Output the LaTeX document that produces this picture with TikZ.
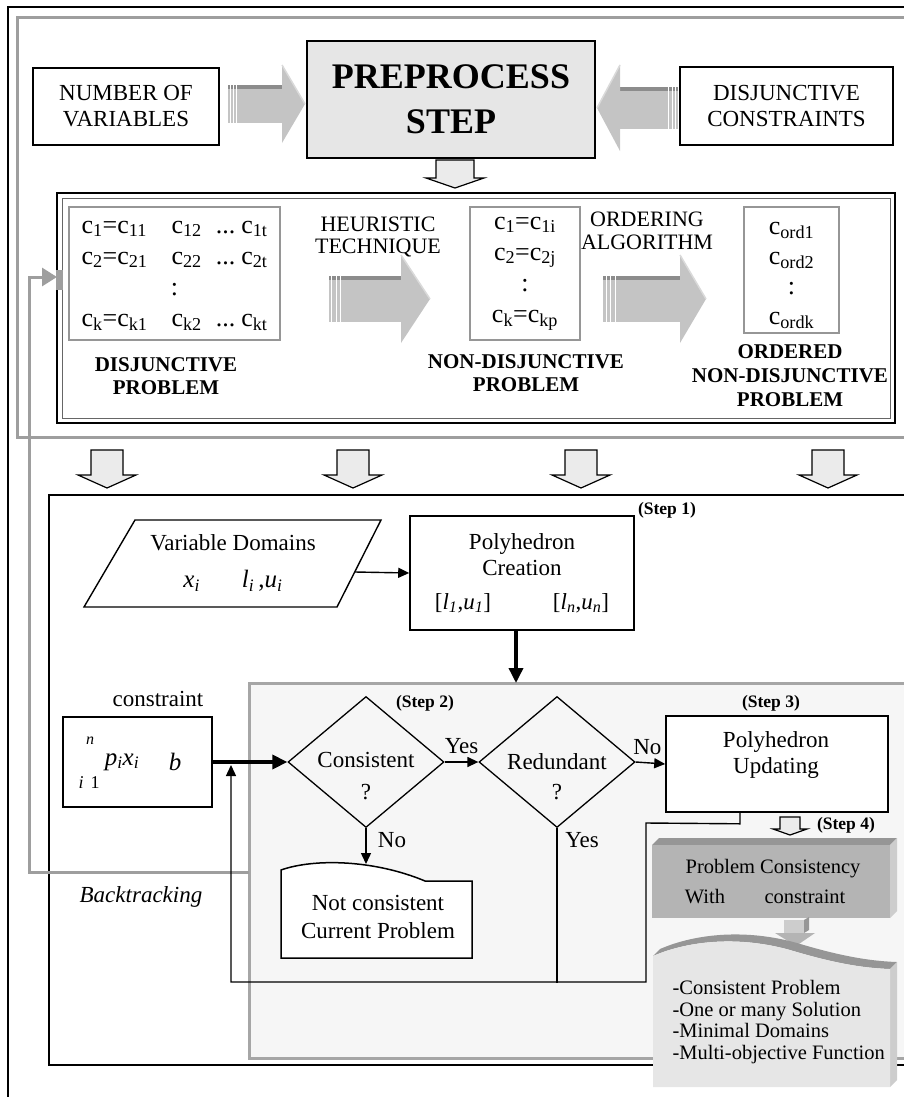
\documentclass[tikz,border=0pt]{standalone}
\usepackage{fontspec}
\setmainfont{Liberation Serif}
\usetikzlibrary{arrows.meta,positioning,shapes.geometric}
\definecolor{framegray}{RGB}{158,158,158}
\definecolor{prepgray}{RGB}{230,230,230}
\definecolor{arrowgray}{RGB}{196,196,196}
\definecolor{arrowdark}{RGB}{140,140,140}
\definecolor{arrowlight}{RGB}{218,218,218}
\definecolor{openfill}{RGB}{235,235,235}
\definecolor{matgray}{RGB}{150,150,150}
\definecolor{regionfill}{RGB}{246,246,246}
\definecolor{regionedge}{RGB}{166,166,166}
\definecolor{cubefront}{RGB}{180,180,180}
\definecolor{cubetop}{RGB}{150,150,150}
\definecolor{cubeside}{RGB}{205,205,205}
\definecolor{wavefront}{RGB}{230,230,230}

\newcommand{\cvar}[1]{c\textsubscript{#1}}
\newcommand{\iv}[2]{\textit{#1}\textsubscript{\textit{#2}}}
% tail x, head x, tip x, mid y, shaft half, head half
\newcommand{\fatarrow}[6]{%
  \fill[arrowgray] (#1,#4-#5) rectangle (#2,#4+#5);
  \fill[arrowdark] (#1,#4-#5) rectangle (#2,#4-#5+4);
  \foreach \f in {0.04,0.1,0.16}
    \draw[white, line width=0.9pt] ({#1+\f*(#2-#1)},#4-#5) -- ({#1+\f*(#2-#1)},#4+#5);
  \fill[arrowgray] (#2,#4-#6) -- (#3,#4) -- (#2,#4+#6) -- cycle;
  \draw[arrowlight, line width=1.5pt] (#2,#4-#6) -- (#3,#4);
}
% centre x, top y, shaft half, head half, shaft length, head length
\newcommand{\openarrow}[6]{%
  \draw[fill=openfill, line width=1.2pt] (#1-#3,#2) -- (#1+#3,#2) -- (#1+#3,#2+#5)
    -- (#1+#4,#2+#5) -- (#1,#2+#5+#6) -- (#1-#4,#2+#5) -- (#1-#3,#2+#5) -- cycle;
}

\tikzset{
  txtbox/.style={draw, line width=1.6pt, fill=white, align=center, inner sep=0pt},
  matbox/.style={draw=matgray, line width=1.5pt, fill=white, inner sep=0pt},
  mattext/.style={align=center, font=\fontsize{26}{31}\selectfont},
  biglabel/.style={font=\fontsize{21}{23}\selectfont\bfseries, align=center},
  steplabel/.style={font=\fontsize{17.5}{20}\selectfont\bfseries},
  decision/.style={diamond, draw, line width=1.3pt, minimum width=156pt, minimum height=131pt, inner sep=0pt},
  thinarrow/.style={line width=1.4pt, -{Triangle[length=11pt,width=10pt]}},
  thickarrow/.style={line width=3.5pt, -{Triangle[length=15pt,width=14pt]}},
  smalltext/.style={font=\fontsize{20.5}{22}\selectfont}
}

\begin{document}
\begin{tikzpicture}[x=1pt,y=-1pt,font=\fontsize{23}{26}\selectfont]
  \useasboundingbox (0,0) rectangle (904,1097);

  % frames
  \draw[line width=1.4pt] (8,1110) -- (8,7) -- (920,7);
  \draw[framegray, line width=3pt] (920,18) -- (17,18) -- (17,437) -- (920,437);

  % preprocess row
  \node[txtbox, minimum width=186pt, minimum height=77pt] (nvars) at (126,106.5) {NUMBER OF\\VARIABLES};
  \node[txtbox, fill=prepgray, minimum width=288pt, minimum height=117pt,
    font=\fontsize{36}{45}\selectfont\bfseries] (prep) at (451,99.5) {PREPROCESS\\STEP};
  \node[txtbox, minimum width=213pt, minimum height=78pt] (dcons) at (786.5,106) {DISJUNCTIVE\\CONSTRAINTS};
  \fatarrow{228}{282}{305}{104}{19}{39}
  \fatarrow{678}{620}{597}{108}{21}{43}
  \openarrow{455}{160}{19}{29}{18}{10}

  % preprocessing frame
  \draw[line width=1.5pt] (57,193) rectangle (895,423);
  \draw[black!60, line width=1pt] (62,198) rectangle (890,418);
  \fill[framegray] (56,270) rectangle (63,290);

  \node[matbox, mattext, minimum width=211pt, minimum height=133pt] (dmat) at (174.5,273.5)
    {\begin{tabular}{@{}l@{\hspace{24pt}}l@{\hspace{14pt}}c@{\hspace{6pt}}l@{}}
      \cvar{1}=\cvar{11} & \cvar{12} & ... & \cvar{1t}\\
      \cvar{2}=\cvar{21} & \cvar{22} & ... & \cvar{2t}\\
      \multicolumn{4}{c}{:}\\
      \cvar{k}=\cvar{k1} & \cvar{k2} & ... & \cvar{kt}
    \end{tabular}};
  \node[font=\fontsize{22}{22}\selectfont, align=center] (heur) at (378,237) {HEURISTIC\\TECHNIQUE};
  \fatarrow{329}{401}{430}{299}{23}{44}
  \node[matbox, mattext, minimum width=110pt, minimum height=133pt] (ndmat) at (525,273.5)
    {\cvar{1}=\cvar{1i}\\\cvar{2}=\cvar{2j}\\:\\\cvar{k}=\cvar{kp}};
  \node[font=\fontsize{22}{23}\selectfont, align=center] (order) at (647,231) {ORDERING\\ALGORITHM};
  \fatarrow{603}{680}{706}{299}{23}{44}
  \node[matbox, minimum width=95pt, minimum height=126pt] (odbox) at (791.5,270) {};
  \node[mattext, font=\fontsize{26}{30}\selectfont] (odmat) at (791.5,275)
    {\cvar{ord1}\\\cvar{ord2}\\:\\\cvar{ordk}};

  \node[biglabel] (dlab) at (166,376.5) {DISJUNCTIVE\\PROBLEM};
  \node[biglabel] (ndlab) at (526,373.5) {NON-DISJUNCTIVE\\PROBLEM};
  \node[biglabel, font=\fontsize{21}{24}\selectfont\bfseries] (odlab) at (790,376) {ORDERED\\NON-DISJUNCTIVE\\PROBLEM};

  \foreach \xa in {107,353,581,828} {\openarrow{\xa}{450}{16}{29}{25}{13}}

  % solving steps
  \draw[line width=1.5pt] (920,495) -- (49,495) -- (49,1065) -- (920,1065);
  \fill[regionfill] (249,683) rectangle (920,1058);
  \draw[regionedge, line width=3pt] (920,683) -- (249,683) -- (249,1058) -- (920,1058);

  \coordinate (btfrom) at (249,872);
  \coordinate (btto) at (57,277);
  \draw[framegray, line width=3pt, -{Triangle[length=15pt,width=18pt]}] (btfrom) -- (29,872) -- (29,277) -- (btto);
  \node[font=\fontsize{23}{26}\selectfont\itshape] (btlab) at (141,897) {Backtracking};

  \node[steplabel] (s1) at (667,510) {(Step 1)};
  \draw[line width=1.4pt] (135,520) -- (381,520) -- (337,607) -- (84,607) -- cycle;
  \node[align=center, font=\fontsize{23}{37}\selectfont] (vardom) at (233,563)
    {Variable Domains\\{\fontsize{25}{25}\selectfont\iv{x}{i}\hspace{42pt}\iv{l}{i}\,,\iv{u}{i}}};
  \node[txtbox, minimum width=224pt, minimum height=114pt] (creation) at (522,573)
    {Polyhedron\\Creation\\[8pt][\iv{l}{1},\iv{u}{1}]\hspace{62pt}[\iv{l}{n},\iv{u}{n}]};
  \coordinate (varout) at (355,572);
  \draw[thinarrow] (varout) -- (creation.west);
  \coordinate (regtop) at (516,683);
  \draw[thickarrow] ([xshift=-6pt]creation.south) -- (regtop);

  \node (clab) at (158,699) {constraint};
  \node[txtbox, minimum width=149pt, minimum height=90pt] (cbox) at (137.5,762) {};
  \node[font=\fontsize{16}{16}\selectfont\itshape] (csumtop) at (90,741) {n};
  \node[font=\fontsize{25}{25}\selectfont] (cterm) at (122,762) {\iv{p}{i}\iv{x}{i}};
  \node[font=\fontsize{25}{25}\selectfont\itshape] (cbound) at (175,762) {b};
  \node[font=\fontsize{18}{18}\selectfont] (csumbot) at (89,783) {\textit{i}\hspace{7pt}1};

  \node[decision] (cons) at (366,762) {};
  \node (constxt) at (366,760) {Consistent};
  \node (consq) at (366,792) {?};
  \node[decision] (red) at (557,762) {};
  \node (redtxt) at (557,762) {Redundant};
  \node (redq) at (557,792) {?};
  \node[steplabel] (s2) at (425,703) {(Step 2)};
  \node[steplabel] (s3) at (771,703) {(Step 3)};
  \node[txtbox, minimum width=222pt, minimum height=96pt] (upd) at (777,764) {};
  \node[align=center] (updtxt) at (776,755) {Polyhedron\\Updating};

  \draw[thickarrow] (cbox.east) -- (cons.west);
  \draw[thinarrow] (cons.east) -- (red.west) node[midway, above=4pt] (yes1) {Yes};
  \draw[thinarrow] (red.east) -- (upd.west) node[midway, above=4pt, xshift=-3pt] (no1) {No};
  \coordinate (nctop) at (366,864);
  \draw[thinarrow] (cons.south) -- (nctop);
  \node (no2) at (392,840) {No};
  \node (yes2) at (582,840) {Yes};
  \draw[line width=1.4pt] (red.south) -- ++(0,155);
  \coordinate (loopin) at (231,765);
  \draw[thinarrow] ([xshift=-37pt]upd.south) -- ++(0,11) -- (646,823) -- (646,982) -- (231,982) -- (loopin);

  \draw[line width=1.5pt, fill=white] (281,958) -- (281,870) .. controls (315,858) and (375,860) .. (425,881)
    -- (472,881) -- (472,958) -- cycle;
  \node[align=center, font=\fontsize{23}{28}\selectfont] (notcons) at (378,917) {Not consistent\\Current Problem};

  % step 4
  \openarrow{790}{817}{10}{17}{12}{6}
  \node[steplabel] (s4) at (846,825) {(Step 4)};
  \fill[cubetop] (652,845) -- (659,838) -- (897,838) -- (890,845) -- cycle;
  \fill[cubeside] (890,845) -- (897,838) -- (897,911) -- (890,918) -- cycle;
  \fill[cubefront] (652,845) rectangle (890,918);
  \node[smalltext] (pc1) at (773,869) {Problem Consistency};
  \node[smalltext] (pc2) at (705,897) {With};
  \node[smalltext] (pc3) at (805,897) {constraint};

  \fill[cubeside] (784,920) rectangle (804,933);
  \fill[cubetop] (804,920) -- (809,917) -- (809,930) -- (804,933) -- cycle;
  \fill[cubefront] (775,933) -- (815,933) -- (796,946) -- cycle;

  \fill[cubetop] (653,956) .. controls (690,940) and (740,936) .. (790,950) .. controls (830,962) and (860,968) .. (890,969)
    -- (897,962) .. controls (867,961) and (837,955) .. (797,943) .. controls (747,929) and (697,933) .. (660,949) -- cycle;
  \fill[cubeside] (890,969) -- (897,962) -- (897,1080) -- (890,1087) -- cycle;
  \fill[wavefront] (653,1087) -- (653,956) .. controls (690,940) and (740,936) .. (790,950)
    .. controls (830,962) and (860,968) .. (890,969) -- (890,1087) -- cycle;
  \node[align=left, anchor=west, font=\fontsize{20.5}{21.7}\selectfont] (outcome) at (669,1022)
    {-Consistent Problem\\-One or many Solution\\-Minimal Domains\\-Multi-objective Function};
\end{tikzpicture}
\end{document}
